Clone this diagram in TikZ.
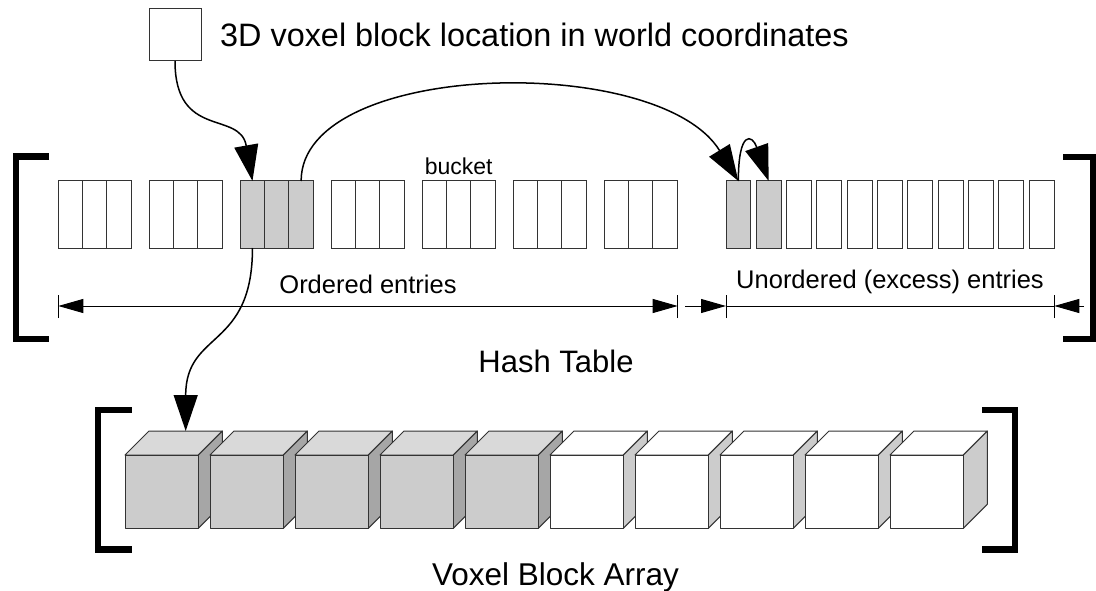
\documentclass[tikz,border=0pt]{standalone}
\usepackage{fontspec}
\setmainfont{Liberation Sans}
\usetikzlibrary{arrows.meta}
\begin{document}
\begin{tikzpicture}[x=1pt,y=-1pt,
  cell/.style={draw=black!80, line width=1pt, minimum width=24.33pt, minimum height=67pt, inner sep=0pt, outer sep=0pt, anchor=north west},
  ucell/.style={cell, minimum width=24.7pt},
  hit/.style={fill=black!20},
  link/.style={line width=1.5pt, -{Triangle[length=36pt,width=24pt]}},
  dim/.style={line width=1pt},
  dimtip/.style={-{Triangle[length=25pt,width=14pt]}},
  brk/.style={line width=6.5pt, line join=miter},
  lbl/.style={inner sep=0pt, anchor=base},
  cubeedge/.style={draw=black!80, line width=1pt, line join=round}]
\useasboundingbox (0,0) rectangle (1096,591);

% location box and caption
\node[draw=black!80, line width=1pt, minimum size=52pt, inner sep=0pt, outer sep=0pt] (loc) at (175,35) {};
\node[inner sep=0pt, anchor=base west, font=\fontsize{32.4}{38}\selectfont] (loctext) at (220,47) {3D voxel block location in world coordinates};

% brackets of the hash table
\draw[brk] (49,156.5) -- (16,156.5) -- (16,339) -- (49,339);
\draw[brk] (1063,157) -- (1093,157) -- (1093,339) -- (1063,339);

% ordered buckets
\foreach \k in {0,...,6}{
  \foreach \j in {0,1,2}{
    \ifnum\k=2
      \node[cell,hit] (b\k-\j) at ({58.3+91*\k+24.33*\j},181) {};
    \else
      \node[cell] (b\k-\j) at ({58.3+91*\k+24.33*\j},181) {};
    \fi
  }
}
% unordered entries
\foreach \i in {0,...,10}{
  \ifnum\i<2
    \node[ucell,hit] (u\i) at ({726+30.33*\i},181) {};
  \else
    \node[ucell] (u\i) at ({726+30.33*\i},181) {};
  \fi
}

\node[lbl, font=\fontsize{23}{27}\selectfont] (bucketlbl) at (458.7,175) {bucket};

% dimension lines
\coordinate (oL) at (58.3,306);
\coordinate (oR) at (677.7,306);
\coordinate (eL) at (726,306);
\coordinate (eR) at (1054.3,306);
\coordinate (eLin) at (685,306);
\coordinate (eRin) at (1084,306);
\draw[dim, {Triangle[length=25pt,width=14pt]}-{Triangle[length=25pt,width=14pt]}] (oL) -- (oR);
\draw[dim] (eL) -- (eR);
\draw[dim, dimtip] (eLin) -- (eL);
\draw[dim, dimtip] (eRin) -- (eR);
\foreach \p in {oL,oR,eL,eR}{
  \draw[dim] ([yshift=-12pt]\p) -- ([yshift=11pt]\p);
}
\node[lbl, font=\fontsize{25.5}{30}\selectfont] (ordlbl) at (368,293) {Ordered entries};
\node[lbl, font=\fontsize{25.5}{30}\selectfont] (exclbl) at (890,288) {Unordered (excess) entries};
\node[lbl, font=\fontsize{31}{36}\selectfont] (hashlbl) at (556,372) {Hash Table};

% voxel block array
\draw[brk] (131.7,410) -- (98,410) -- (98,549.5) -- (131.7,549.5);
\draw[brk] (982,410) -- (1015,410) -- (1015,549.5) -- (982,549.5);
\foreach \k in {0,...,9}{
  \pgfmathsetmacro\xo{125+85*\k}
  \ifnum\k<5
    \def\cf{black!20}\def\ct{black!15}\def\cs{black!35}
  \else
    \def\cf{white}\def\ct{white}\def\cs{black!20}
  \fi
  \filldraw[cubeedge, fill=\ct] (\xo,455) -- ++(24,-24) -- ++(73.3,0) -- ++(-24,24) -- cycle;
  \filldraw[cubeedge, fill=\cs] (\xo+73.3,455) -- ++(24,-24) -- ++(0,73.3) -- ++(-24,24) -- cycle;
  \filldraw[cubeedge, fill=\cf] (\xo,455) rectangle ++(73.3,73.3);
}
\coordinate (cubetop) at (185.7,431);
\node[lbl, font=\fontsize{31.5}{37}\selectfont] (arraylbl) at (555.6,585.5) {Voxel Block Array};

% connectors
\draw[link] (loc.south) .. controls +(0,79) and +(-12.5,-71) .. (b2-0.north);
\draw[link] (b2-2.north) .. controls +(0,-121) and +(-79.5,-129) .. (u0.north);
\draw[link] (u0.north) .. controls +(0,-51) and +(-16.6,-47) .. (u1.north);
\draw[link] (b2-0.south) .. controls +(0,102) and +(0,-101) .. (cubetop);
\end{tikzpicture}
\end{document}
